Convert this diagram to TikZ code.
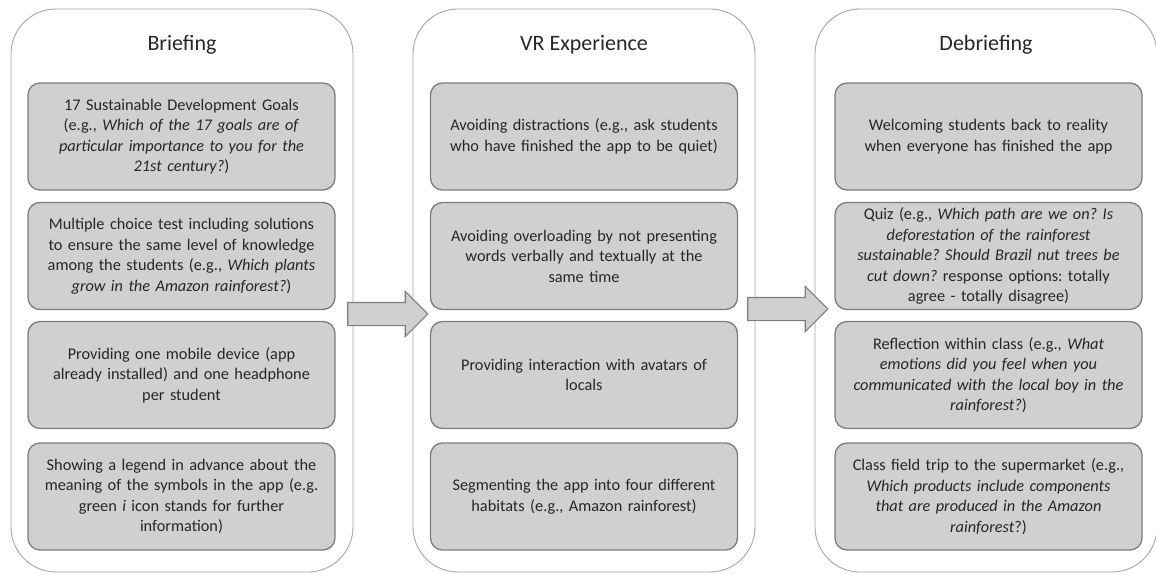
\documentclass[tikz,border=0pt]{standalone}
\usepackage{fontspec}
\setmainfont{Carlito}
\frenchspacing
\usetikzlibrary{shapes.arrows,positioning}
\definecolor{panelline}{RGB}{165,165,165}
\definecolor{boxline}{RGB}{125,125,125}
\definecolor{boxfill}{RGB}{208,208,208}
\definecolor{ink}{RGB}{38,38,38}
\begin{document}
\begin{tikzpicture}[x=1pt,y=-1pt,
  phase/.style={draw=panelline,line width=0.9pt,rounded corners=45pt,minimum width=342pt,minimum height=563pt,inner sep=0pt},
  phasetitle/.style={font=\fontsize{22}{27}\selectfont,text=ink},
  item/.style={draw=boxline,line width=1.3pt,fill=boxfill,rounded corners=12pt,minimum width=307pt,minimum height=107pt,text width=300pt,align=center,inner sep=0pt,text=ink,font=\fontsize{16.3}{20.5}\selectfont},
  flow/.style={single arrow,draw=boxline,line width=1.1pt,fill=boxfill,minimum height=80pt,inner xsep=0pt,inner ysep=11pt,single arrow head extend=11pt}]
\useasboundingbox (0,0) rectangle (1156,575);
% three phases
\node[phase] (brief) at (182,290.5) {};
\node[phase] (vr) at (584,290.5) {};
\node[phase] (debrief) at (986,290.5) {};
\node[phasetitle] (brieft) at (182,45) {Briefing};
\node[phasetitle] (vrt) at (584,45) {VR Experience};
\node[phasetitle] (debrieft) at (986,45) {Debriefing};
% briefing
\node[item] (b1) at (181.5,136.5) {17 Sustainable Development Goals\\(e.g., \textit{Which of the 17 goals are of}\\\textit{particular importance to you for the}\\\textit{21st century?})};
\node[item] (b2) at (181.5,256) {Multiple choice test including solutions\\to ensure the same level of knowledge\\among the students (e.g., \textit{Which plants}\\\textit{grow in the Amazon rainforest?})};
\node[item] (b3) at (181.5,375) {Providing one mobile device (app\\already installed) and one headphone\\per student};
\node[item] (b4) at (181.5,496.5) {Showing a legend in advance about the\\meaning of the symbols in the app (e.g.\\green \textit{i} icon stands for further\\information)};
% vr experience
\node[item] (v1) at (584,136.5) {Avoiding distractions (e.g., ask students\\who have finished the app to be quiet)};
\node[item] (v2) at (584,256) {Avoiding overloading by not presenting\\words verbally and textually at the\\same time};
\node[item] (v3) at (584,375) {Providing interaction with avatars of\\locals};
\node[item] (v4) at (584,496.5) {Segmenting the app into four different\\habitats (e.g., Amazon rainforest)};
% debriefing
\node[item] (d1) at (988.5,136.5) {Welcoming students back to reality\\when everyone has finished the app};
\node[item] (d2) at (988.5,256) {Quiz (e.g., \textit{Which path are we on? Is}\\\textit{deforestation of the rainforest}\\\textit{sustainable? Should Brazil nut trees be}\\\textit{cut down?} response options: totally\\agree - totally disagree)};
\node[item] (d3) at (988.5,375) {Reflection within class (e.g., \textit{What}\\\textit{emotions did you feel when you}\\\textit{communicated with the local boy in the}\\\textit{rainforest?})};
\node[item] (d4) at (988.5,496.5) {Class field trip to the supermarket (e.g.,\\\textit{Which products include components}\\\textit{that are produced in the Amazon}\\\textit{rainforest}?)};
% arrows between phases
\node[flow] (step1) at (382,314) {};
\node[flow] (step2) at (782,309) {};
\end{tikzpicture}
\end{document}
